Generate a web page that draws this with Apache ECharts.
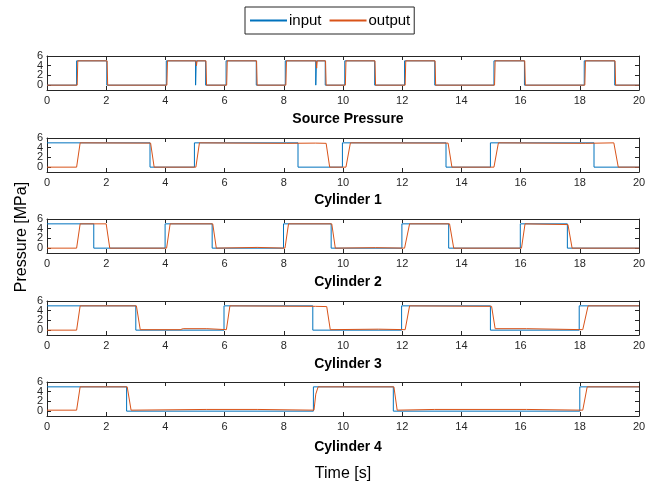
<!DOCTYPE html>
<html>
<head>
<meta charset="utf-8">
<script src="https://cdn.jsdelivr.net/npm/echarts@6/dist/echarts.min.js"></script>
<style>html,body{margin:0;padding:0;background:#fff}#c{width:659px;height:487px}</style>
</head>
<body>
<div id="c"></div>
<script>
// ---- data ----
const panelTitles = ['Source Pressure', 'Cylinder 1', 'Cylinder 2', 'Cylinder 3', 'Cylinder 4'];
const xTicks = [0, 2, 4, 6, 8, 10, 12, 14, 16, 18, 20];
const yTicks = [0, 2, 4, 6];

const srcIn = [[0,0],[1.0,0],[1.0,5],[2.02,5],[2.02,0],[4.03,0],[4.03,5],[5.02,5],[5.02,0],[5.04,0],[5.04,5],[5.36,5],[5.36,0],[6.05,0],[6.05,5],[7.07,5],[7.07,0],[8.05,0],[8.05,5],[9.08,5],[9.08,0],[9.1,0],[9.1,5],[9.4,5],[9.4,0],[10.06,0],[10.06,5],[11.07,5],[11.07,0],[12.08,0],[12.08,5],[13.1,5],[13.1,0],[15.1,0],[15.1,5],[16.13,5],[16.13,0],[18.15,0],[18.15,5],[19.18,5],[19.18,0],[20,0]];
const srcOut = [[0,0],[1.02,0],[1.04,5],[2.03,5],[2.05,0],[4.05,0],[4.07,5],[5.03,5],[5.05,4.0],[5.07,5],[5.37,5],[5.39,0],[6.07,0],[6.09,5],[7.08,5],[7.1,0],[8.07,0],[8.09,5],[9.09,5],[9.11,3.5],[9.13,5],[9.41,5],[9.43,0],[10.08,0],[10.1,5],[11.08,5],[11.1,0],[12.1,0],[12.12,5],[13.11,5],[13.13,0],[15.12,0],[15.14,5],[16.14,5],[16.16,0],[18.17,0],[18.19,5],[19.19,5],[19.21,0],[20,0]];

const c1In = [[0,5],[3.48,5],[3.48,0],[4.98,0],[4.98,5],[8.48,5],[8.48,0],[9.98,0],[9.98,5],[13.48,5],[13.48,0],[14.98,0],[14.98,5],[18.48,5],[18.48,0],[20,0]];
const c1Out = [[0,0],[1.0,0],[1.12,5],[3.5,4.95],[3.62,0],[5.03,0],[5.15,5],[8.1,4.9],[8.12,5],[9.08,4.95],[9.1,4.7],[9.12,4.95],[9.43,4.9],[9.55,0],[10.1,0],[10.25,5],[13.55,4.95],[13.68,0],[15.1,0],[15.25,5],[18.2,4.9],[18.22,5],[19.15,5],[19.3,0],[20,0]];

const c2In = [[0,5],[1.58,5],[1.58,0],[3.99,0],[3.99,5],[5.58,5],[5.58,0],[7.99,0],[7.99,5],[9.6,5],[9.6,0],[11.99,0],[11.99,5],[13.57,5],[13.57,0],[15.99,0],[15.99,5],[17.58,5],[17.58,0],[20,0]];
const c2Out = [[0,0],[1.0,0],[1.12,5],[2.0,5],[2.12,0],[4.04,0],[4.16,5],[5.6,5],[5.72,0],[7.1,0.15],[7.12,0],[8.04,0],[8.16,5],[9.62,5],[9.74,0],[11.1,0.1],[12.08,0],[12.25,5],[13.6,5],[13.74,0],[16.03,0],[16.15,5],[17.6,4.85],[17.74,0],[20,0]];

const c3In = [[0,5],[3.0,5],[3.0,0],[5.98,0],[5.98,5],[8.98,5],[8.98,0],[11.98,0],[11.98,5],[14.98,5],[14.98,0],[17.98,0],[17.98,5],[20,5]];
const c3Out = [[0,0],[1.0,0],[1.12,5],[3.02,5],[3.15,0.1],[4.5,0.1],[4.6,0.3],[5.4,0.3],[5.42,0.1],[6.06,0.1],[6.18,5],[9.07,4.9],[9.08,4.6],[9.1,4.9],[9.45,4.85],[9.57,0.1],[11.2,0.2],[12.1,0.1],[12.25,5],[15.02,4.9],[15.14,0.3],[16.2,0.3],[16.22,0.1],[18.1,0.1],[18.28,5],[20,5]];

const c4In = [[0,5],[2.69,5],[2.69,0],[9.0,0],[9.0,5],[11.7,5],[11.7,0],[18.0,0],[18.0,5],[20,5]];
const c4Out = [[0,0.2],[1.0,0.2],[1.12,5],[2.71,5],[2.84,0.2],[5.4,0.35],[5.42,0.2],[7.1,0.35],[7.12,0.2],[9.02,0.2],[9.08,3.5],[9.1,3.6],[9.16,5],[11.72,5],[11.83,0.2],[13.1,0.35],[13.12,0.2],[16.2,0.35],[16.22,0.2],[18.1,0.2],[18.25,5],[20,5]];

const inputs = [srcIn, c1In, c2In, c3In, c4In];
const outputs = [srcOut, c1Out, c2Out, c3Out, c4Out];

// ---- layout ----
const FONT = 'Liberation Sans, Arial, Helvetica, sans-serif';
const AX = '#262626';
const BLUE = '#0072BD', ORANGE = '#D95319';
const gridTops = [56, 138, 219, 301, 382];
const gridH = 34;
const titleTops = [107, 188, 270, 352, 435];

const grids = [], xAxes = [], yAxes = [], series = [], titles = [];
gridTops.forEach((t, i) => {
  grids.push({left: 47, right: 20, top: t, height: gridH, containLabel: false});
  const xBase = {type: 'value', gridIndex: i, min: 0, max: 20, interval: 2,
    axisLine: {show: true, onZero: false, lineStyle: {color: AX, width: 1}},
    axisTick: {show: true, inside: true, length: 4, lineStyle: {color: AX}},
    splitLine: {show: false}};
  xAxes.push(Object.assign({}, xBase, {position: 'bottom',
    axisLabel: {show: true, color: AX, fontFamily: FONT, fontSize: 11, margin: 5,
      customValues: xTicks, hideOverlap: false, showMinLabel: true, showMaxLabel: true}}));
  xAxes.push(Object.assign({}, xBase, {position: 'top', axisLabel: {show: false}}));
  const yBase = {type: 'value', gridIndex: i, min: -1, max: 6,
    axisLine: {show: true, onZero: false, lineStyle: {color: AX, width: 1}},
    axisTick: {show: true, inside: true, length: 4, lineStyle: {color: AX}, customValues: yTicks},
    splitLine: {show: false}};
  const yLab = (vals) => ({show: true, color: AX, fontFamily: FONT, fontSize: 11, margin: 4,
      customValues: vals, hideOverlap: false, showMinLabel: true, showMaxLabel: true});
  // left axis: even-indexed tick labels; second left axis: the rest (avoids overlap hiding)
  yAxes.push(Object.assign({}, yBase, {position: 'left',
    axisLabel: yLab(yTicks.filter((v, k) => k % 2 === 0))}));
  yAxes.push(Object.assign({}, yBase, {position: 'right', axisLabel: {show: false}}));
  yAxes.push(Object.assign({}, yBase, {position: 'left', axisLine: {show: false}, axisTick: {show: false},
    axisLabel: yLab(yTicks.filter((v, k) => k % 2 === 1))}));
  series.push({name: 'input', type: 'line', xAxisIndex: 2*i, yAxisIndex: 3*i,
    data: inputs[i], symbol: 'none', lineStyle: {color: BLUE, width: 1}, itemStyle: {color: BLUE},
    animation: false, z: 2});
  series.push({name: 'output', type: 'line', xAxisIndex: 2*i, yAxisIndex: 3*i,
    data: outputs[i], symbol: 'none', lineStyle: {color: ORANGE, width: 1}, itemStyle: {color: ORANGE},
    animation: false, z: 3});
  titles.push({text: panelTitles[i], left: 343, top: titleTops[i], textAlign: 'center',
    textStyle: {fontFamily: FONT, fontSize: 14, fontWeight: 'bold', color: '#000'}});
});

const chart = echarts.init(document.getElementById('c'), null, {renderer: 'canvas'});
chart.setOption({
  animation: false,
  backgroundColor: '#fff',
  title: titles,
  grid: grids,
  xAxis: xAxes,
  yAxis: yAxes,
  series: series,
  legend: {
    data: ['input', 'output'], left: 245, top: 7, orient: 'horizontal',
    itemWidth: 37, itemHeight: 2, itemGap: 8, padding: [6, 4, 6, 5],
    borderColor: AX, borderWidth: 1, borderRadius: 0,
    textStyle: {fontFamily: FONT, fontSize: 15, color: '#000', padding: [0, 0, 0, -3]},
    icon: 'rect'
  },
  graphic: [
    {type: 'text', x: 22, y: 237, rotation: Math.PI / 2,
      style: {text: 'Pressure [MPa]', fontFamily: FONT, fontSize: 16, fill: '#000',
        textAlign: 'center', textVerticalAlign: 'middle'}},
    {type: 'text', x: 343, y: 474,
      style: {text: 'Time [s]', fontFamily: FONT, fontSize: 16, fill: '#000',
        textAlign: 'center', textVerticalAlign: 'middle'}}
  ]
});
</script>
</body>
</html>
